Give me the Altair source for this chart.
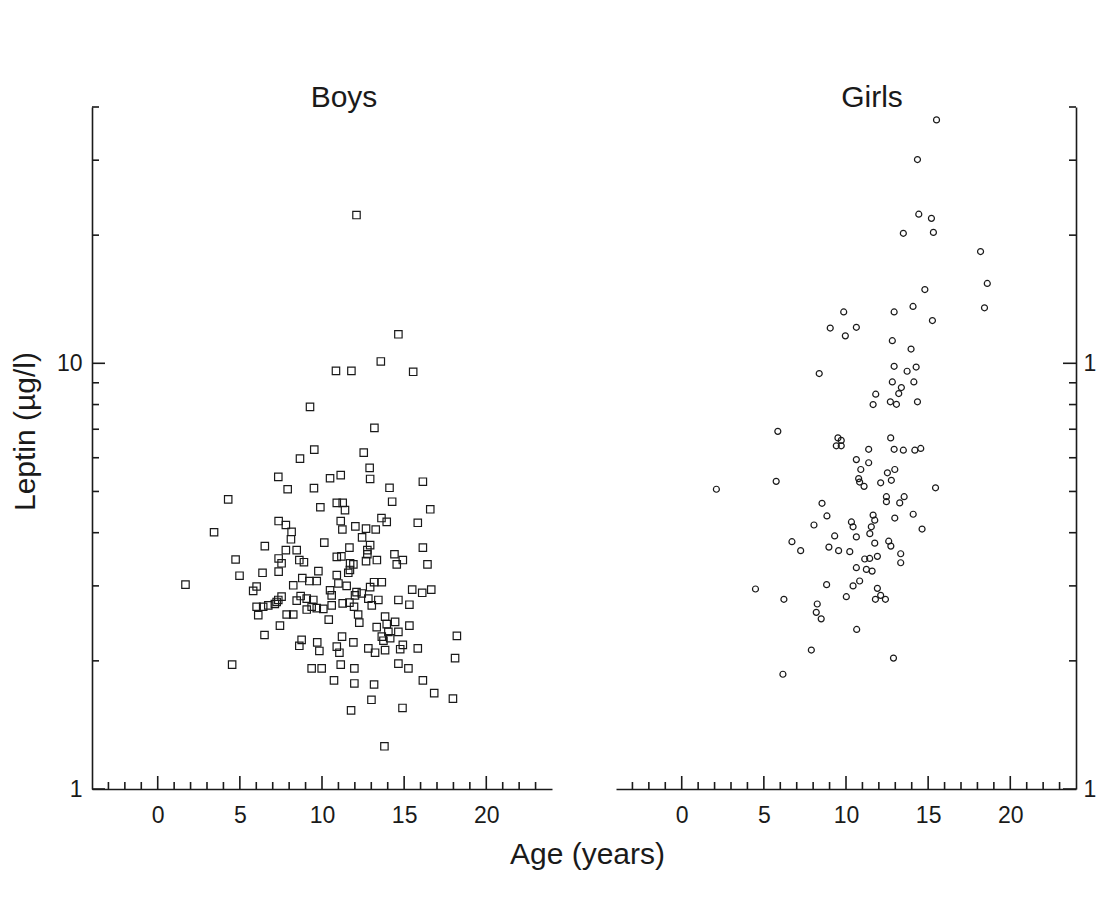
import altair as alt
import pandas as pd

FONT = "Liberation Sans"
INK = "#1a1a1a"

# ---- data ----
boys_age = [12.1, 14.65, 13.58, 10.85, 11.79, 15.55, 9.27, 13.19, 9.53, 8.66, 12.54, 12.9, 12.93, 11.14, 10.49, 7.34, 16.14,
            7.91, 9.51, 14.11, 4.29, 14.27, 16.59, 9.9, 10.9, 11.26, 11.4, 15.83, 13.62, 13.94, 12.03, 11.14, 11.24, 12.68,
            13.27, 7.36, 7.8, 8.15, 3.43, 10.14, 8.11, 6.52, 12.44, 12.93, 12.76, 16.14, 11.67, 7.8, 8.46, 4.74, 7.36, 7.54,
            8.62, 8.9, 10.9, 11.18, 11.71, 11.91, 12.68, 13.34, 12.76, 14.41, 14.55, 14.92, 16.42, 4.98, 6.38, 7.36, 9.78,
            10.9, 11.6, 11.7, 1.69, 8.8, 9.23, 9.68, 8.25, 11.0, 11.5, 12.1, 12.93, 13.17, 13.64, 6.02, 5.81, 10.49, 10.59,
            15.49, 16.1, 16.65, 7.54, 7.24, 8.7, 9.07, 9.47, 9.37, 9.07, 9.68, 10.08, 8.46, 10.59, 11.26, 11.67, 12.01, 12.42,
            12.82, 13.43, 13.03, 11.95, 12.2, 14.65, 15.32, 6.02, 6.42, 6.73, 6.12, 7.13, 7.34, 7.85, 8.25, 7.44, 10.41, 12.27,
            13.84, 13.33, 13.94, 14.45, 14.65, 14.04, 13.64, 13.74, 14.15, 15.32, 6.5, 8.76, 8.62, 9.71, 9.84, 11.22, 11.91,
            10.9, 11.06, 12.82, 13.23, 13.84, 14.76, 14.92, 15.83, 18.21, 18.1, 4.53, 9.37, 9.98, 11.14, 11.97, 14.65, 15.26,
            10.73, 11.97, 13.17, 16.14, 16.83, 17.97, 13.01, 14.9, 11.77, 13.8]
boys_leptin = [22.3, 11.7, 10.1, 9.6, 9.6, 9.55, 7.9, 7.05, 6.27, 5.97, 6.17, 5.68, 5.35, 5.46, 5.37, 5.41, 5.27,
               5.06, 5.09, 5.1, 4.79, 4.73, 4.54, 4.59, 4.7, 4.7, 4.52, 4.22, 4.33, 4.24, 4.14, 4.26, 4.07, 4.09,
               4.07, 4.26, 4.17, 4.02, 4.01, 3.79, 3.86, 3.72, 3.9, 3.74, 3.64, 3.69, 3.69, 3.64, 3.64, 3.46, 3.48, 3.39,
               3.45, 3.41, 3.51, 3.52, 3.39, 3.37, 3.43, 3.45, 3.56, 3.56, 3.37, 3.45, 3.37, 3.17, 3.22, 3.24, 3.25,
               3.18, 3.22, 3.27, 3.02, 3.13, 3.08, 3.08, 3.01, 3.04, 3.0, 2.9, 2.98, 3.06, 3.06, 2.99, 2.92, 2.93, 2.85,
               2.94, 2.89, 2.94, 2.83, 2.75, 2.84, 2.8, 2.78, 2.68, 2.64, 2.66, 2.65, 2.77, 2.7, 2.73, 2.74, 2.85, 2.88,
               2.8, 2.78, 2.7, 2.68, 2.57, 2.78, 2.71, 2.68, 2.68, 2.7, 2.56, 2.72, 2.78, 2.57, 2.57, 2.42, 2.5, 2.46,
               2.54, 2.4, 2.44, 2.47, 2.34, 2.34, 2.28, 2.23, 2.26, 2.42, 2.3, 2.24, 2.17, 2.21, 2.11, 2.28, 2.21,
               2.16, 2.09, 2.14, 2.09, 2.12, 2.13, 2.18, 2.14, 2.29, 2.03, 1.96, 1.92, 1.92, 1.96, 1.92, 1.97, 1.92,
               1.8, 1.77, 1.76, 1.8, 1.68, 1.63, 1.62, 1.55, 1.53, 1.26]

girls_age = [15.51, 14.35, 14.43, 15.2, 13.49, 15.32, 18.19, 18.6, 18.43, 14.8, 14.08, 15.26, 12.93, 9.86, 9.04, 10.63,
             9.96, 12.82, 13.96, 8.37, 12.93, 13.72, 14.27, 12.82, 14.13, 13.37, 13.21, 11.81, 11.65, 12.7, 13.07, 14.35,
             5.85, 9.51, 9.71, 9.41, 9.71, 11.38, 12.72, 12.93, 13.49, 14.19, 14.55, 10.63, 11.38, 10.9, 10.77, 10.83,
             11.1, 12.52, 12.97, 12.76, 12.11, 5.75, 2.11, 15.45, 12.46, 12.46, 13.54, 13.27, 8.54, 8.84, 8.05, 10.33,
             10.43, 10.63, 10.23, 11.65, 11.75, 11.54, 11.45, 11.75, 11.91, 12.97, 14.09, 14.63, 12.6, 12.73, 13.33,
             13.33, 9.31, 8.96, 9.55, 6.71, 7.24, 11.14, 11.44, 10.63, 11.24, 11.59, 8.82, 10.43, 10.83, 11.91, 12.11,
             12.4, 11.79, 10.02, 4.49, 6.22, 8.25, 8.19, 8.49, 10.65, 7.89, 12.89, 6.16]
girls_leptin = [37.3, 30.1, 22.4, 21.9, 20.2, 20.3, 18.3, 15.4, 13.5, 14.9, 13.6, 12.6, 13.2, 13.2, 12.1, 12.15,
                11.6, 11.3, 10.8, 9.46, 9.84, 9.58, 9.8, 9.04, 9.04, 8.77, 8.49, 8.46, 8.0, 8.12, 8.01, 8.12,
                6.92, 6.68, 6.59, 6.4, 6.4, 6.28, 6.68, 6.28, 6.25, 6.25, 6.31, 5.94, 5.84, 5.63, 5.36, 5.26,
                5.14, 5.53, 5.63, 5.31, 5.24, 5.28, 5.06, 5.1, 4.86, 4.73, 4.86, 4.7, 4.69, 4.38, 4.17, 4.24,
                4.13, 3.91, 3.61, 4.4, 4.28, 4.13, 3.98, 3.78, 3.52, 4.33, 4.42, 4.08, 3.82, 3.72, 3.57,
                3.4, 3.93, 3.7, 3.63, 3.81, 3.63, 3.47, 3.48, 3.31, 3.28, 3.25, 3.02, 3.0, 3.08, 2.96, 2.85,
                2.79, 2.79, 2.83, 2.95, 2.79, 2.72, 2.6, 2.51, 2.37, 2.12, 2.03, 1.86]

x_tick_labels = [0, 5, 10, 15, 20]
x_minor_ticks = [-3, -2, -1, 1, 2, 3, 4, 6, 7, 8, 9, 11, 12, 13, 14, 16, 17, 18, 19, 21, 22, 23]
y_tick_labels = [1, 10]
y_minor_ticks = [2, 3, 4, 5, 6, 7, 8, 9, 20, 30, 40]

W, H = 460, 682
MAJOR, MINOR = 13, 7
TICK_FS = 23
TITLE_FS = 30

x_scale = alt.Scale(domain=[-4, 24], nice=False, zero=False)
y_scale = alt.Scale(type="log", domain=[1, 40], nice=False)

x_axis = alt.Axis(values=x_tick_labels, title=None, ticks=False, grid=False, labelPadding=15,
                  labelFontSize=TICK_FS, labelFont=FONT, labelColor=INK, domainColor=INK, domainWidth=1.6,
                  format="d", labelFlush=False)


def y_axis(orient, title):
    kw = dict(orient=orient, values=y_tick_labels, ticks=False, grid=False,
              labelPadding=10 if orient == "left" else 7,
              labelFontSize=TICK_FS, labelFont=FONT, labelColor=INK, domainColor=INK, domainWidth=1.6,
              format="d", labelFlush=False, title=title)
    if title:
        kw.update(titleFontSize=TITLE_FS, titleFont=FONT, titleFontWeight="normal", titleColor=INK,
                  titlePadding=16, titleY=324)
    return alt.Axis(**kw)


def panel(ages, leptins, shape, size, orient, ytitle, name, dx):
    pts_df = pd.DataFrame({"age": ages, "leptin": leptins})
    xmaj = pd.DataFrame({"t": x_tick_labels})
    xmin = pd.DataFrame({"t": x_minor_ticks})
    ymaj = pd.DataFrame({"v": y_tick_labels})
    ymin = pd.DataFrame({"v": y_minor_ticks})
    X = lambda f: alt.X(f"{f}:Q", scale=x_scale, axis=x_axis)
    Y = lambda f: alt.Y(f"{f}:Q", scale=y_scale, axis=y_axis(orient, ytitle))
    base_x0 = 0 if orient == "left" else W
    sign = 1 if orient == "left" else -1

    pts = alt.Chart(pts_df).mark_point(shape=shape, filled=False, size=size, strokeWidth=1.2,
                                       color=INK, opacity=1).encode(x=X("age"), y=Y("leptin"))
    layers = [pts]
    for df, ln in ((xmaj, MAJOR), (xmin, MINOR)):
        layers.append(alt.Chart(df).mark_rule(color=INK, strokeWidth=1.6).encode(
            x=X("t"), y=alt.value(H), y2=alt.value(H - ln)))
    for df, ln in ((ymaj, MAJOR), (ymin, MINOR)):
        layers.append(alt.Chart(df).mark_rule(color=INK, strokeWidth=1.6).encode(
            y=Y("v"), x=alt.value(base_x0), x2=alt.value(base_x0 + sign * ln)))
    return alt.layer(*layers).properties(
        width=W, height=H,
        title=alt.TitleParams(text=name, fontSize=TITLE_FS, font=FONT, fontWeight="normal", color=INK,
                              frame="group", dx=dx, offset=-7))


left = panel(boys_age, boys_leptin, "square", 55, "left", "Leptin (µg/l)", "Boys", 22)
right = panel(girls_age, girls_leptin, "circle", 36, "right", None, "Girls", 26)

chart = alt.hconcat(left, right, spacing=64).properties(
    title=alt.TitleParams(text="Age (years)", orient="bottom", fontSize=TITLE_FS, font=FONT, fontWeight="normal",
                          color=INK, anchor="middle", dx=28, offset=13),
    padding={"left": 2, "top": 75, "right": -13, "bottom": 5},
).configure(font=FONT).configure_view(stroke=None)

chart.save("out.html", embed_options={"renderer": "svg", "actions": False})
